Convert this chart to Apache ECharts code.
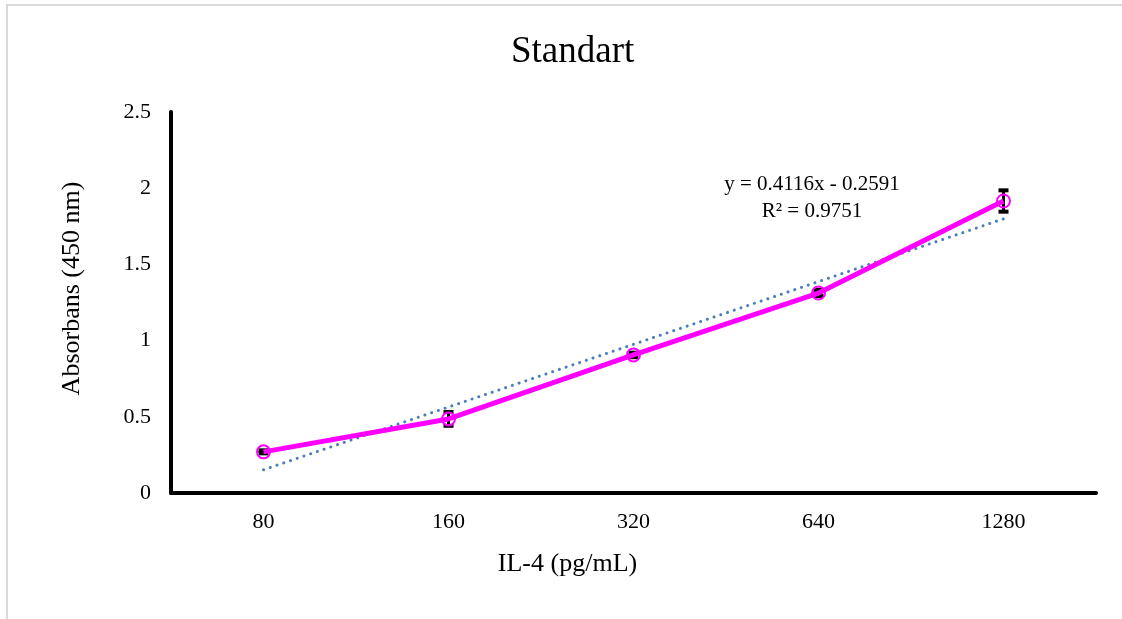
<!DOCTYPE html>
<html>
<head>
<meta charset="utf-8">
<script src="https://cdn.jsdelivr.net/npm/echarts@6/dist/echarts.min.js"></script>
<style>
  html, body { margin: 0; padding: 0; background: #fff; }
  #chart { width: 1122px; height: 619px; }
</style>
</head>
<body>
<div id="chart"></div>
<script>
// concentrations (x categories)
var categories = ['80', '160', '320', '640', '1280'];
// mean absorbance at 450 nm
var absorbans = [0.27, 0.486, 0.906, 1.312, 1.916];
// error (+/-)
var errors = [0.01, 0.045, 0.015, 0.02, 0.07];
// linear trend y = 0.4116x - 0.2591, x = 1..5
var trendSlope = 0.4116;
var trendIntercept = -0.2591;
var trendText = ['y = 0.4116x - 0.2591', 'R² = 0.9751'];

var trend = categories.map(function (c, i) {
  return +(trendSlope * (i + 1) + trendIntercept).toFixed(4);
});
var errData = absorbans.map(function (v, i) {
  return [i, v - errors[i], v + errors[i]];
});

var font = '"Liberation Serif", "DejaVu Serif", serif';
var chart = echarts.init(document.getElementById('chart'));

var option = {
  backgroundColor: '#fff',
  animation: false,
  title: {
    text: 'Standart',
    left: 506,
    top: 29,
    textStyle: { fontFamily: font, fontSize: 37, fontWeight: 'normal', color: '#000' }
  },
  grid: { left: 171, right: 26, top: 112, bottom: 126 },
  xAxis: {
    type: 'category',
    data: categories,
    boundaryGap: true,
    name: 'IL-4 (pg/mL)',
    nameLocation: 'middle',
    nameGap: 58,
    nameTextStyle: { fontFamily: font, fontSize: 26, color: '#000', padding: [0, 132, 0, 0] },
    axisLine: { lineStyle: { color: '#000', width: 4 } },
    axisTick: { show: false },
    axisLabel: { fontFamily: font, fontSize: 22, color: '#000', margin: 18 }
  },
  yAxis: {
    type: 'value',
    min: 0,
    max: 2.5,
    interval: 0.5,
    name: 'Absorbans (450 nm)',
    nameLocation: 'middle',
    nameGap: 86,
    nameTextStyle: { fontFamily: font, fontSize: 26, color: '#000', padding: [0, 0, 0, 28] },
    axisLine: { show: true, lineStyle: { color: '#000', width: 4 } },
    axisTick: { show: false },
    splitLine: { show: false },
    axisLabel: { fontFamily: font, fontSize: 22, color: '#000', margin: 20 }
  },
  series: [
    {
      type: 'custom',
      name: 'error',
      z: 1,
      data: errData,
      renderItem: function (params, api) {
        var x = api.value(0);
        var lo = api.coord([x, api.value(1)]);
        var hi = api.coord([x, api.value(2)]);
        var hw = 5;
        return {
          type: 'group',
          children: [
            { type: 'line', shape: { x1: lo[0], y1: lo[1], x2: hi[0], y2: hi[1] }, style: { stroke: '#000', lineWidth: 3 } },
            { type: 'line', shape: { x1: lo[0] - hw, y1: lo[1], x2: lo[0] + hw, y2: lo[1] }, style: { stroke: '#000', lineWidth: 4 } },
            { type: 'line', shape: { x1: hi[0] - hw, y1: hi[1], x2: hi[0] + hw, y2: hi[1] }, style: { stroke: '#000', lineWidth: 4 } }
          ]
        };
      }
    },
    {
      type: 'line',
      name: 'trend',
      z: 2,
      data: trend,
      symbol: 'none',
      lineStyle: { color: '#4a7ebb', width: 3, type: [0.1, 7], cap: 'round' }
    },
    {
      type: 'line',
      name: 'Absorbans',
      z: 3,
      data: absorbans,
      symbol: 'circle',
      symbolSize: 13,
      itemStyle: { color: 'rgba(0,0,0,0)', borderColor: '#ff00ff', borderWidth: 2 },
      lineStyle: { color: '#ff00ff', width: 5 }
    }
  ],
  graphic: [
    {
      type: 'rect',
      z: -10,
      shape: { x: 7, y: 5, width: 1130, height: 630 },
      style: { fill: 'none', stroke: '#d9d9d9', lineWidth: 2 }
    },
    {
      type: 'text',
      x: 812,
      y: 184,
      style: {
        text: trendText[0],
        align: 'center',
        verticalAlign: 'middle',
        fontFamily: font,
        fontSize: 21,
        fill: '#000'
      }
    },
    {
      type: 'text',
      x: 812,
      y: 211,
      style: {
        text: trendText[1],
        align: 'center',
        verticalAlign: 'middle',
        fontFamily: font,
        fontSize: 21,
        fill: '#000'
      }
    }
  ]
};
chart.setOption(option);
</script>
</body>
</html>
